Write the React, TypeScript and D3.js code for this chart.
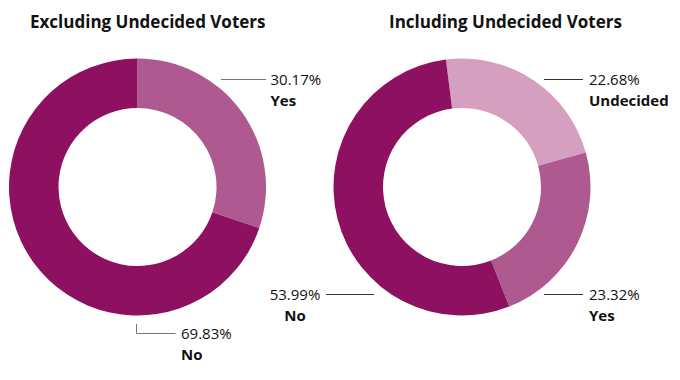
import React from "react";
import * as d3 from "d3";

const excludingLabels = ["Yes", "No"];
const excludingValues = [30.17, 69.83];
const includingLabels = ["Undecided", "Yes", "No"];
const includingValues = [22.68, 23.32, 53.99];
const titles = ["Excluding Undecided Voters", "Including Undecided Voters"];

const colorMap: Record<string, string> = {
  No: "#8d1160",
  Yes: "#ae5a91",
  Undecided: "#d59fc0",
};

const FONT = "'Open Sans', Lato, sans-serif";

type LabelCfg = {
  name: string;
  pts: [number, number][];
  tx: number;
  anchor: "start" | "middle" | "end";
  stroke: string;
};

function Donut({
  cx,
  cy,
  labels,
  values,
  startDeg,
  labelCfg,
}: {
  cx: number;
  cy: number;
  labels: string[];
  values: number[];
  startDeg: number;
  labelCfg: LabelCfg[];
}) {
  const outer = 128.5;
  const inner = 79;
  const start = (startDeg * Math.PI) / 180;
  const pie = d3
    .pie<number>()
    .sort(null)
    .startAngle(start)
    .endAngle(start + 2 * Math.PI);
  const arcs = pie(values);
  const arc = d3.arc<d3.PieArcDatum<number>>().innerRadius(inner).outerRadius(outer);
  const fmt = d3.format(".2f");
  return (
    <g transform={`translate(${cx},${cy})`}>
      {arcs.map((a, i) => (
        <path key={i} d={arc(a) || ""} fill={colorMap[labels[i]]} />
      ))}
      {labelCfg.map((lc, k) => {
        const i = labels.indexOf(lc.name);
        const last = lc.pts[lc.pts.length - 1];
        const y = last[1];
        return (
          <g key={k}>
            <polyline
              points={lc.pts.map((p) => p.join(",")).join(" ")}
              fill="none"
              stroke={lc.stroke}
              strokeWidth={1}
            />
            <text
              x={lc.tx}
              y={y + 5.5}
              textAnchor={lc.anchor}
              fontFamily={FONT}
              fontSize={15}
              fill="#111"
            >
              {fmt(values[i])}%
            </text>
            <text
              x={lc.tx}
              y={y + 26.5}
              textAnchor={lc.anchor}
              fontFamily={FONT}
              fontSize={15}
              fontWeight={700}
              fill="#111"
            >
              {labels[i]}
            </text>
          </g>
        );
      })}
    </g>
  );
}

export default function App() {
  const leftCx = 137.5;
  const rightCx = 462;
  const cy = 187;
  return (
    <svg
      width={680}
      height={380}
      style={{ position: "absolute", left: 0, top: 0, background: "#fff" }}
    >
      <text x={30} y={28} fontFamily={FONT} fontSize={17} fontWeight={700} fill="#111">
        {titles[0]}
      </text>
      <text x={389} y={28} fontFamily={FONT} fontSize={17} fontWeight={700} fill="#111">
        {titles[1]}
      </text>
      <Donut
        cx={leftCx}
        cy={cy}
        labels={excludingLabels}
        values={excludingValues}
        startDeg={0}
        labelCfg={[
          {
            name: "Yes",
            pts: [
              [83.5, -107.5],
              [128.5, -107.5],
            ],
            tx: 133,
            anchor: "start",
            stroke: "#777",
          },
          {
            name: "No",
            pts: [
              [-1, 137],
              [-1, 146.5],
              [38, 146.5],
            ],
            tx: 43.5,
            anchor: "start",
            stroke: "#777",
          },
        ]}
      />
      <Donut
        cx={rightCx}
        cy={cy}
        labels={includingLabels}
        values={includingValues}
        startDeg={-7.2}
        labelCfg={[
          {
            name: "Undecided",
            pts: [
              [82, -107.5],
              [121, -107.5],
            ],
            tx: 127,
            anchor: "start",
            stroke: "#333",
          },
          {
            name: "Yes",
            pts: [
              [82, 107.5],
              [121, 107.5],
            ],
            tx: 127,
            anchor: "start",
            stroke: "#333",
          },
          {
            name: "No",
            pts: [
              [-136, 107.5],
              [-88, 107.5],
            ],
            tx: -167,
            anchor: "middle",
            stroke: "#333",
          },
        ]}
      />
    </svg>
  );
}
